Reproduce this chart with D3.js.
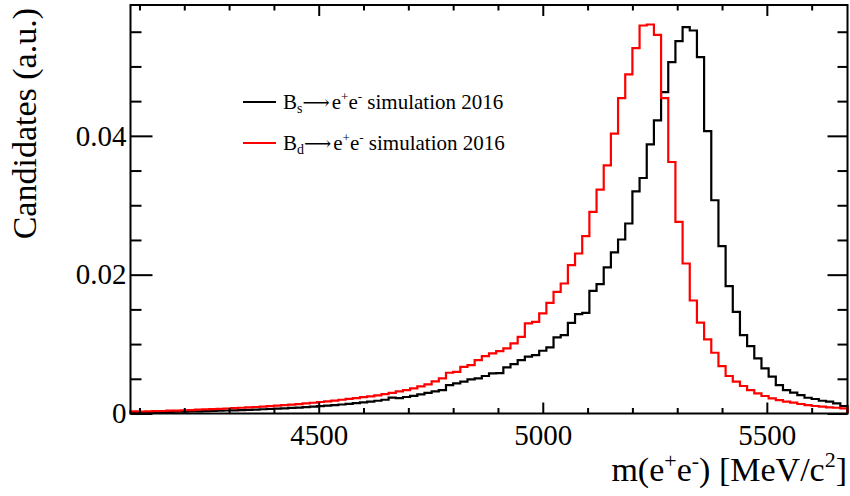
<!DOCTYPE html>
<html><head><meta charset="utf-8">
<script src="https://cdn.jsdelivr.net/npm/d3@7"></script>
<style>html,body{margin:0;padding:0;background:#fff;}svg{display:block;}</style>
</head><body>
<svg id="c" width="850" height="496"></svg>
<script>
// Binning: 100 bins from 4080 to 5680 MeV/c^2
const binLow = 4080, binHigh = 5680, nBins = 100;
const xMajorTicks = [4500, 5000, 5500];
const xMinorTicks = d3.range(4100, 5700, 100);
const yMajorTicks = [0, 0.02, 0.04];
const yMinorTicks = [0.005,0.01,0.015,0.025,0.03,0.035,0.045,0.05,0.055];
const yTickLabels = ["0", "0.02", "0.04"];
const seriesNames = ["Bs", "Bd"];

// B_s -> e+e- simulation 2016 (black)
const bsValues = [
0.00015,0.00016,0.00018,0.00019,0.00021,0.00023,0.00025,0.00027,0.00030,0.00032,
0.00035,0.00037,0.00040,0.00043,0.00046,0.00050,0.00053,0.00057,0.00061,0.00065,
0.00070,0.00075,0.00080,0.00086,0.00092,0.00099,0.00106,0.00113,0.00121,0.00130,
0.00140,0.00150,0.00160,0.00172,0.00184,0.00198,0.00230,0.00222,0.00238,0.00255,
0.00275,0.00298,0.00318,0.00338,0.00410,0.00434,0.00458,0.00492,0.00506,0.00540,
0.00578,0.00582,0.00665,0.00712,0.00770,0.00818,0.00842,0.00904,0.00953,0.01096,
0.01130,0.01307,0.01432,0.01450,0.01767,0.01863,0.02104,0.02320,0.02507,0.02737,
0.03201,0.03393,0.03878,0.04223,0.04631,0.05062,0.05364,0.05566,0.05518,0.05134,
0.04067,0.03072,0.02410,0.01835,0.01465,0.01130,0.00971,0.00794,0.00650,0.00530,
0.00410,0.00338,0.00300,0.00266,0.00227,0.00209,0.00184,0.00170,0.00147,0.00108];

// B_d -> e+e- simulation 2016 (red)
const bdValues = [
0.00030,0.00028,0.00031,0.00033,0.00036,0.00040,0.00042,0.00047,0.00050,0.00055,
0.00058,0.00063,0.00068,0.00072,0.00078,0.00083,0.00088,0.00094,0.00100,0.00106,
0.00113,0.00120,0.00128,0.00136,0.00145,0.00155,0.00166,0.00175,0.00186,0.00198,
0.00210,0.00222,0.00235,0.00248,0.00262,0.00278,0.00296,0.00318,0.00338,0.00362,
0.00390,0.00420,0.00462,0.00506,0.00587,0.00601,0.00673,0.00698,0.00770,0.00827,
0.00866,0.00900,0.00938,0.01010,0.01105,0.01298,0.01321,0.01442,0.01594,0.01753,
0.01873,0.02137,0.02305,0.02554,0.02904,0.03226,0.03576,0.04032,0.04544,0.04885,
0.05263,0.05590,0.05604,0.05456,0.04544,0.03623,0.02760,0.02161,0.01628,0.01310,
0.01068,0.00875,0.00683,0.00540,0.00458,0.00396,0.00338,0.00290,0.00252,0.00219,
0.00194,0.00170,0.00156,0.00137,0.00122,0.00108,0.00098,0.00089,0.00083,0.00075];

const FONT = "'Liberation Serif','Times New Roman',Times,serif";
const svg = d3.select("#c");
const L = 130.5, R = 847.5, T = 5, B = 413.5;
const x = d3.scaleLinear().domain([binLow, binHigh]).range([L, R]);
const y = d3.scaleLinear().domain([0, 0.05885]).range([B, T]);
const binW = (binHigh - binLow) / nBins;

function stepPoints(vals) {
  const pts = [[binLow, 0]];
  vals.forEach((v, i) => {
    pts.push([binLow + i * binW, v]);
    pts.push([binLow + (i + 1) * binW, v]);
  });
  pts.push([binHigh, 0]);
  return pts;
}
const line = d3.line().x(d => x(d[0])).y(d => y(d[1]));

svg.append("path").attr("d", line(stepPoints(bsValues)))
  .attr("fill", "none").attr("stroke", "#000").attr("stroke-width", 2.2);
svg.append("path").attr("d", line(stepPoints(bdValues)))
  .attr("fill", "none").attr("stroke", "#ff0000").attr("stroke-width", 2.2);

// Axes (ticks inward)
function styleAxis(g) {
  g.select(".domain").remove();
  g.selectAll(".tick line").attr("stroke", "#000").attr("stroke-width", 2);
  g.selectAll("text").attr("font-family", FONT).attr("font-size", 29).attr("fill", "#000");
}
svg.append("g").attr("transform", `translate(0,${B})`)
  .call(d3.axisBottom(x).tickValues(xMajorTicks).tickSize(-11).tickPadding(11).tickFormat(d3.format("d")))
  .call(styleAxis);
svg.append("g").attr("transform", `translate(0,${B})`)
  .call(d3.axisBottom(x).tickValues(xMinorTicks.filter(v => !xMajorTicks.includes(v))).tickSize(-5.5).tickFormat(""))
  .call(styleAxis);
svg.append("g").attr("transform", `translate(0,${T})`)
  .call(d3.axisTop(x).tickValues(xMajorTicks).tickSize(-11).tickFormat(""))
  .call(styleAxis);
svg.append("g").attr("transform", `translate(0,${T})`)
  .call(d3.axisTop(x).tickValues(xMinorTicks.filter(v => !xMajorTicks.includes(v))).tickSize(-5.5).tickFormat(""))
  .call(styleAxis);

svg.append("g").attr("transform", `translate(${L},0)`)
  .call(d3.axisLeft(y).tickValues(yMajorTicks).tickSize(-22).tickPadding(4)
    .tickFormat((d, i) => yTickLabels[i]))
  .call(styleAxis);
svg.append("g").attr("transform", `translate(${L},0)`)
  .call(d3.axisLeft(y).tickValues(yMinorTicks).tickSize(-11).tickFormat(""))
  .call(styleAxis);
svg.append("g").attr("transform", `translate(${R},0)`)
  .call(d3.axisRight(y).tickValues(yMajorTicks).tickSize(-20).tickFormat(""))
  .call(styleAxis);
svg.append("g").attr("transform", `translate(${R},0)`)
  .call(d3.axisRight(y).tickValues(yMinorTicks).tickSize(-10).tickFormat(""))
  .call(styleAxis);

// Frame
svg.append("rect").attr("x", L).attr("y", T).attr("width", R - L).attr("height", B - T)
  .attr("fill", "none").attr("stroke", "#000").attr("stroke-width", 2);

// Axis titles
const xt = svg.append("text").attr("x", 847).attr("y", 481).attr("text-anchor", "end")
  .attr("font-family", FONT).attr("font-size", 34).attr("fill", "#000");
xt.append("tspan").text("m(e");
xt.append("tspan").attr("font-size", 22).attr("dy", -13).text("+");
xt.append("tspan").attr("dy", 13).text("e");
xt.append("tspan").attr("font-size", 22).attr("dy", -13).text("-");
xt.append("tspan").attr("dy", 13).text(") [MeV/c");
xt.append("tspan").attr("font-size", 22).attr("dy", -14).text("2");
xt.append("tspan").attr("dy", 14).text("]");

svg.append("text").attr("transform", "translate(36,8) rotate(-90)").attr("text-anchor", "end")
  .attr("font-family", FONT).attr("font-size", 34).attr("fill", "#000").text("Candidates (a.u.)");

// Legend
const legend = [
  {name: seriesNames[0], sub: "s", color: "#000", yy: 102},
  {name: seriesNames[1], sub: "d", color: "#ff0000", yy: 143}
];
legend.forEach(e => {
  svg.append("line").attr("x1", 243).attr("x2", 276).attr("y1", e.yy).attr("y2", e.yy)
    .attr("stroke", e.color).attr("stroke-width", 2.2);
  const t = svg.append("text").attr("x", 283).attr("y", e.yy + 7)
    .attr("font-family", FONT).attr("font-size", 21).attr("fill", "#000");
  t.append("tspan").text("B");
  t.append("tspan").attr("font-size", 14).attr("dy", 4).text(e.sub);
  t.append("tspan").attr("dy", -4).attr("font-family", "'DejaVu Serif','DejaVu Sans'").attr("font-size", 19).text("\u27F6");
  t.append("tspan").attr("dx", 2).text("e");
  t.append("tspan").attr("font-size", 13).attr("dy", -8).text("+");
  t.append("tspan").attr("dy", 8).text("e");
  t.append("tspan").attr("font-size", 13).attr("dy", -8).text("-");
  t.append("tspan").attr("dy", 8).text(" simulation 2016");
});
</script>
</body></html>
